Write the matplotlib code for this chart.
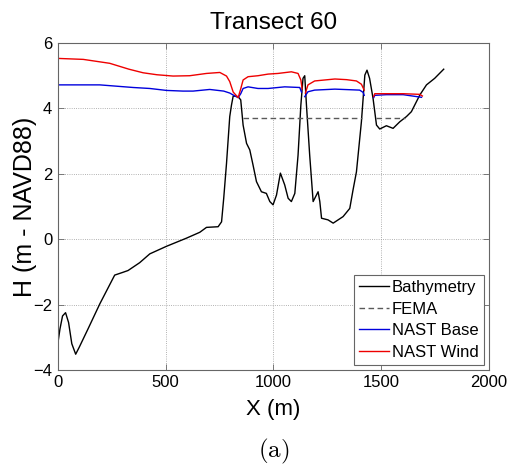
import matplotlib
matplotlib.use('Agg')
import matplotlib.pyplot as plt
import numpy as np

nan = np.nan

# Bathymetry profile
bathy_x = [0, 10, 22, 36, 50, 65, 83, 100, 140, 195, 264, 300, 326, 380, 427, 504,
           597, 659, 690, 744, 760, 770, 783, 798, 806, 814, 837, 849, 860, 876, 891,
           906, 922, 945, 968, 984, 999, 1015, 1033, 1053, 1069, 1084, 1100, 1115,
           1128, 1138, 1146, 1154, 1169, 1185, 1208, 1216, 1224, 1254, 1278, 1324,
           1355, 1370, 1386, 1409, 1425, 1435, 1447, 1463, 1479, 1494, 1525, 1556,
           1587, 1618, 1641, 1680, 1711, 1749, 1791]
bathy_h = [-3.2, -2.75, -2.35, -2.25, -2.55, -3.2, -3.52, -3.3, -2.75, -1.98, -1.1,
           -1.02, -0.96, -0.72, -0.45, -0.22, 0.03, 0.21, 0.36, 0.38, 0.53, 1.25, 2.32,
           3.75, 4.1, 4.38, 4.36, 4.26, 3.49, 2.93, 2.73, 2.27, 1.76, 1.45, 1.4, 1.15,
           1.05, 1.35, 2.02, 1.66, 1.25, 1.15, 1.4, 2.57, 4.1, 4.92, 5.0, 4.1, 2.57,
           1.15, 1.45, 1.15, 0.64, 0.59, 0.49, 0.69, 0.94, 1.5, 2.06, 3.59, 5.02, 5.17,
           4.92, 4.31, 3.49, 3.37, 3.47, 3.39, 3.59, 3.75, 3.9, 4.41, 4.72, 4.92, 5.2]

# FEMA level (gap where ground is above it)
fema_x = [860, 1410, 1440, 1478, 1612]
fema_h = [3.72, 3.72, nan, 3.72, 3.72]

# NAST base
base_x = [0, 195, 350, 427, 505, 581, 628, 705, 770, 798, 814, 837, 849, 860, 883,
          929, 976, 1053, 1123, 1131, 1138, 1146, 1161, 1192, 1286, 1401, 1417, 1422,
          1440, 1466, 1471, 1525, 1603, 1688]
base_h = [4.72, 4.72, 4.64, 4.61, 4.55, 4.53, 4.53, 4.58, 4.53, 4.47, 4.41, 4.33,
          4.45, 4.61, 4.66, 4.61, 4.61, 4.66, 4.64, 4.5, nan, 4.36, 4.51, 4.56, 4.59,
          4.56, 4.49, 4.4, nan, 4.33, 4.4, 4.42, 4.42, 4.34]

# NAST wind
wind_x = [0, 118, 241, 330, 396, 460, 535, 612, 690, 752, 783, 798, 814, 837, 849,
          860, 883, 929, 976, 1022, 1084, 1115, 1128, 1134, 1140, 1149, 1161, 1192,
          1286, 1340, 1386, 1409, 1422, 1440, 1466, 1471, 1603, 1680, 1692]
wind_h = [5.53, 5.5, 5.38, 5.2, 5.09, 5.03, 4.99, 5.0, 5.07, 5.1, 4.99, 4.82, 4.5,
          4.33, 4.6, 4.87, 4.97, 5.0, 5.05, 5.07, 5.12, 5.07, 4.87, 4.6, nan, 4.47,
          4.72, 4.84, 4.9, 4.88, 4.84, 4.74, 4.56, nan, 4.36, 4.45, 4.45, 4.43, 4.38]

plt.rcParams['font.family'] = ['Liberation Sans', 'DejaVu Sans']
plt.rcParams['mathtext.fontset'] = 'cm'

fig = plt.figure(figsize=(5.07, 4.73), dpi=100)
ax = fig.add_axes([0.114, 0.218, 0.850, 0.691])

ax.plot(bathy_x, bathy_h, color='black', lw=1.0, label='Bathymetry')
ax.plot(fema_x, fema_h, color='0.35', lw=1.0, ls=(0, (4, 2.5)), label='FEMA')
ax.plot(base_x, base_h, color='#0000dd', lw=1.0, label='NAST Base')
ax.plot(wind_x, wind_h, color='#ee0000', lw=1.0, label='NAST Wind')

ax.set_xlim(0, 2000)
ax.set_ylim(-4, 6)
ax.set_xticks([0, 500, 1000, 1500, 2000])
ax.set_yticks([-4, -2, 0, 2, 4, 6])
ax.grid(True, ls=':', color='0.6', lw=0.6)
for s in ax.spines.values():
    s.set_color('0.4')
    s.set_linewidth(0.8)
ax.tick_params(direction='in', length=4, width=0.6, color='0.4', labelsize=12,
               top=True, right=True, pad=4)

ax.set_title('Transect 60', fontsize=17.5, pad=10)
ax.set_xlabel('X (m)', fontsize=16, labelpad=6)
ax.set_ylabel('H (m - NAVD88)', fontsize=18, labelpad=-3)

leg = ax.legend(loc='lower right', fontsize=12, fancybox=False, framealpha=1,
                edgecolor='0.4', handlelength=1.8, handletextpad=0.2,
                labelspacing=0.4, borderpad=0.3, borderaxespad=0.3)
leg.get_frame().set_linewidth(0.8)

fig.text(0.54, 0.045, r'$\mathrm{(a)}$', fontsize=18, ha='center', va='center')

fig.savefig('out.png', dpi=100)
